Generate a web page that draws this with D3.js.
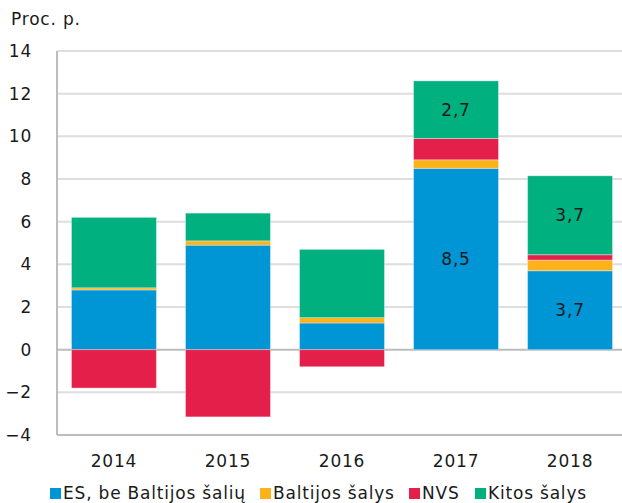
<!DOCTYPE html>
<html>
<head>
<meta charset="utf-8">
<script src="https://cdn.jsdelivr.net/npm/d3@7.9.0/dist/d3.min.js"></script>
<style>
  body { margin: 0; background: #fff; }
  text { font-family: "DejaVu Sans", Verdana, sans-serif; fill: #1a1a1a; letter-spacing: 0.8px; }
</style>
</head>
<body>
<svg id="chart"></svg>
<script>
const years = ["2014", "2015", "2016", "2017", "2018"];
const seriesNames = ["ES, be Baltijos šalių", "Baltijos šalys", "NVS", "Kitos šalys"];
const seriesColors = ["#0096d6", "#fdb11a", "#e4204a", "#00b07f"];

const esValues = [2.8, 4.9, 1.25, 8.5, 3.7];
const balticValues = [0.1, 0.2, 0.25, 0.4, 0.5];
const nvsValues = [-1.8, -3.15, -0.8, 1.0, 0.25];
const otherValues = [3.3, 1.3, 3.2, 2.7, 3.7];

// which segments carry a value label
const labelled = [
  { year: "2017", series: 0 }, { year: "2017", series: 3 },
  { year: "2018", series: 0 }, { year: "2018", series: 3 }
];

const yTicks = [-4, -2, 0, 2, 4, 6, 8, 10, 12, 14];

const W = 622, H = 503;
const margin = { top: 51, right: -5, bottom: 68, left: 57 };

const svg = d3.select("#chart").attr("width", W).attr("height", H);

const x = d3.scaleBand().domain(years)
  .range([margin.left, W - margin.right]).paddingInner(0.255).paddingOuter(0.127);
const y = d3.scaleLinear().domain([-4, 14]).range([H - margin.bottom, margin.top]);

const allSeries = [esValues, balticValues, nvsValues, otherValues];

// stack with positive/negative offsets
const segments = [];
years.forEach((yr, i) => {
  let pos = 0, neg = 0;
  allSeries.forEach((vals, s) => {
    const v = vals[i];
    let y0, y1;
    if (v >= 0) { y0 = pos; y1 = pos + v; pos = y1; }
    else { y0 = neg; y1 = neg + v; neg = y1; }
    segments.push({ year: yr, series: s, value: v, y0, y1 });
  });
});

// gridlines
svg.append("g")
  .selectAll("line")
  .data(yTicks)
  .join("line")
  .attr("x1", margin.left).attr("x2", W)
  .attr("y1", d => y(d)).attr("y2", d => y(d))
  .attr("stroke", d => d === 0 ? "#bdbdbd" : "#dedede")
  .attr("stroke-width", 2);

// bars
svg.append("g")
  .selectAll("rect")
  .data(segments)
  .join("rect")
  .attr("x", d => x(d.year))
  .attr("width", x.bandwidth())
  .attr("y", d => y(Math.max(d.y0, d.y1)))
  .attr("height", d => Math.abs(y(d.y0) - y(d.y1)))
  .attr("fill", d => seriesColors[d.series])
  .attr("stroke", "#ffffff")
  .attr("stroke-opacity", 0.35)
  .attr("stroke-width", 1);

// value labels
svg.append("g")
  .selectAll("text")
  .data(segments.filter(d => labelled.some(l => l.year === d.year && l.series === d.series)))
  .join("text")
  .attr("x", d => x(d.year) + x.bandwidth() / 2)
  .attr("y", d => y((d.y0 + d.y1) / 2) + 6)
  .attr("text-anchor", "middle")
  .attr("font-size", 17)
  .attr("fill", "#111")
  .text(d => d3.format(".1f")(d.value).replace(".", ","));

// axis frame
svg.append("line")
  .attr("x1", margin.left).attr("x2", margin.left)
  .attr("y1", y(14)).attr("y2", y(-4))
  .attr("stroke", "#bdbdbd").attr("stroke-width", 2);
svg.append("line")
  .attr("x1", margin.left).attr("x2", W)
  .attr("y1", y(-4)).attr("y2", y(-4))
  .attr("stroke", "#bdbdbd").attr("stroke-width", 2);

// y tick labels
svg.append("g")
  .selectAll("text")
  .data(yTicks)
  .join("text")
  .attr("x", 32)
  .attr("y", d => y(d) + 6)
  .attr("text-anchor", "end")
  .attr("font-size", 17)
  .text(d => d < 0 ? "\u2212" + Math.abs(d) : d);

// x tick labels
svg.append("g")
  .selectAll("text")
  .data(years)
  .join("text")
  .attr("x", d => x(d) + x.bandwidth() / 2)
  .attr("y", 467)
  .attr("text-anchor", "middle")
  .attr("font-size", 17)
  .text(d => d);

// unit label
svg.append("text")
  .attr("x", 11).attr("y", 25)
  .attr("font-size", 17)
  .text("Proc. p.");

// legend
const legendX = [50, 260, 409, 475];
const legend = svg.append("g")
  .selectAll("g")
  .data(seriesNames)
  .join("g")
  .attr("transform", (d, i) => `translate(${legendX[i]},488)`);
legend.append("rect")
  .attr("width", 11).attr("height", 11)
  .attr("fill", (d, i) => seriesColors[i]);
legend.append("text")
  .attr("x", 13).attr("y", 11)
  .attr("font-size", 17)
  .text(d => d);
</script>
</body>
</html>
